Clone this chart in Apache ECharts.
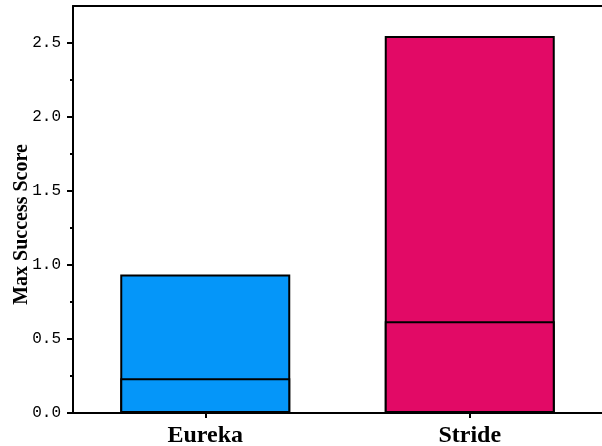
<!DOCTYPE html>
<html>
<head>
<meta charset="utf-8">
<script src="https://cdn.jsdelivr.net/npm/echarts@6/dist/echarts.min.js"></script>
<style>html,body{margin:0;padding:0;background:#fff;}#c{width:602px;height:446px;}</style>
</head>
<body>
<div id="c"></div>
<script>
var categories = ['Eureka', 'Stride'];
var medianValues = [0.235, 0.62];
var maxValues = [0.935, 2.547];
var barColors = ['#0596F9', '#E20A66'];
var yTickValues = [0, 0.5, 1.0, 1.5, 2.0, 2.5];

var chart = echarts.init(document.getElementById('c'), null, {renderer: 'canvas'});
var fullBars = maxValues.map(function (v, i) {
  return {value: v, itemStyle: {color: barColors[i]}};
});
var lowerBars = medianValues.map(function (v, i) {
  return {value: v, itemStyle: {color: barColors[i]}};
});
var option = {
  animation: false,
  backgroundColor: '#fff',
  grid: {left: 73, right: 0, top: 6, bottom: 33, containLabel: false, outerBoundsMode: 'none'},
  xAxis: [{
    type: 'category',
    data: categories,
    axisLine: {show: true, lineStyle: {color: '#000', width: 2}},
    axisTick: {show: true, alignWithLabel: true, length: 5, lineStyle: {color: '#000', width: 2}},
    axisLabel: {color: '#000', fontFamily: 'Liberation Serif', fontWeight: 'bold', fontSize: 24, margin: 11},
    splitLine: {show: false}
  }, {
    type: 'category',
    position: 'top',
    data: categories,
    axisLine: {show: true, lineStyle: {color: '#000', width: 2}},
    axisTick: {show: false},
    axisLabel: {show: false},
    splitLine: {show: false}
  }],
  yAxis: {
    type: 'value',
    min: 0,
    max: 2.75,
    interval: 0.5,
    name: 'Max Success Score',
    nameLocation: 'middle',
    nameGap: 41,
    nameMoveOverlap: false,
    nameTextStyle: {color: '#000', fontFamily: 'Liberation Serif', fontWeight: 'bold', fontSize: 20, padding: [0, 30, 0, 0]},
    axisLine: {show: true, lineStyle: {color: '#000', width: 2}},
    axisTick: {show: true, length: 6, customValues: yTickValues, lineStyle: {color: '#000', width: 2}},
    minorTick: {show: true, splitNumber: 2, length: 3, lineStyle: {color: '#000', width: 2}},
    axisLabel: {
      color: '#000', fontFamily: 'Liberation Mono', fontSize: 16, margin: 12,
      customValues: yTickValues,
      formatter: function (v) { return v.toFixed(1); }
    },
    splitLine: {show: false}
  },
  series: [{
    type: 'bar',
    data: fullBars,
    barWidth: 170,
    itemStyle: {borderColor: '#000', borderWidth: 2}
  }, {
    type: 'bar',
    data: lowerBars,
    barWidth: 170,
    barGap: '-100%',
    itemStyle: {borderColor: '#000', borderWidth: 2}
  }]
};
chart.setOption(option);
</script>
</body>
</html>
